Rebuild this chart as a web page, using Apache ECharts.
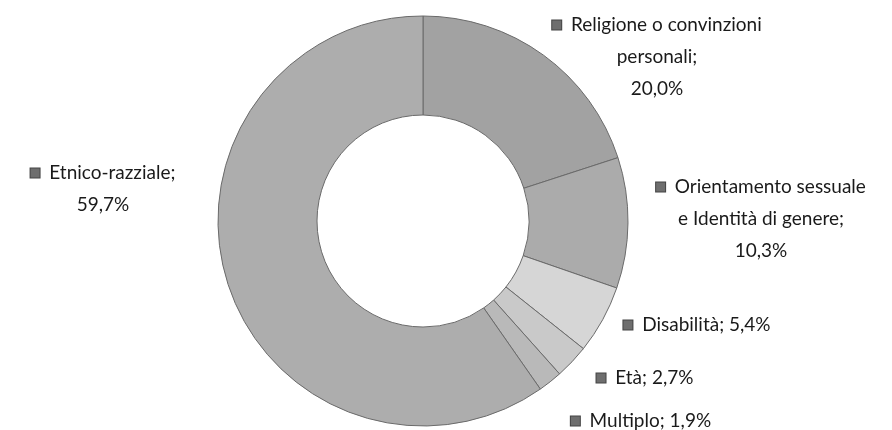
<!DOCTYPE html>
<html>
<head>
<meta charset="utf-8">
<script src="https://cdn.jsdelivr.net/npm/echarts@6/dist/echarts.min.js"></script>
<style>
  html, body { margin: 0; padding: 0; background: #fff; }
  #chart { width: 892px; height: 430px; }
</style>
</head>
<body>
<div id="chart"></div>
<script>
// dati (percentuali)
var names = ['Religione o convinzioni\npersonali;', 'Orientamento sessuale\ne Identità di genere;', 'Disabilità;', 'Età;', 'Multiplo;', 'Etnico-razziale;'];
var values = [20.0, 10.3, 5.4, 2.7, 1.9, 59.7];
var labels = ['20,0%', '10,3%', '5,4%', '2,7%', '1,9%', '59,7%'];
var colors = ['#a2a2a2', '#ababab', '#d6d6d6', '#c9c9c9', '#b9b9b9', '#adadad'];
var multiLine = [true, true, false, false, false, true];

// dove stanno le etichette (centro x, top y)
var labelPos = [
    [657, 9], [761, 171], [697, 309], [645, 362], [641, 405], [103, 157]
];

var chart = echarts.init(document.getElementById('chart'));

var data = [];
for (let i = 0; i < values.length; i++) {
    let txt = multiLine[i] ? names[i] + '\n' + labels[i] : names[i] + ' ' + labels[i];
    data.push({
        name: txt,
        value: values[i],
        itemStyle: { color: colors[i] }
    });
}

chart.setOption({
    animation: false,
    series: [
        {
            type: 'pie',
            center: [423, 221],
            radius: [106, 205],
            startAngle: 90,
            clockwise: true,
            data: data,
            itemStyle: {
                borderColor: '#6a6a6a',
                borderWidth: 1
            },
            labelLine: { show: false },
            label: {
                show: true,
                position: 'outside',
                overflow: 'none',
                width: 300,
                formatter: function (p) {
                    return '{sq|}  ' + p.name;
                },
                fontFamily: 'Lato',
                fontSize: 19,
                lineHeight: 32,
                color: '#1a1a1a',
                rich: {
                    sq: {
                        width: 9,
                        height: 9,
                        backgroundColor: '#6e6e6e',
                        borderColor: '#444',
                        borderWidth: 1
                    }
                }
            },
            labelLayout: function (p) {
                let pos = labelPos[p.dataIndex];
                return {
                    x: pos[0],
                    y: pos[1],
                    align: 'center',
                    verticalAlign: 'top'
                };
            }
        }
    ]
});
</script>
</body>
</html>
